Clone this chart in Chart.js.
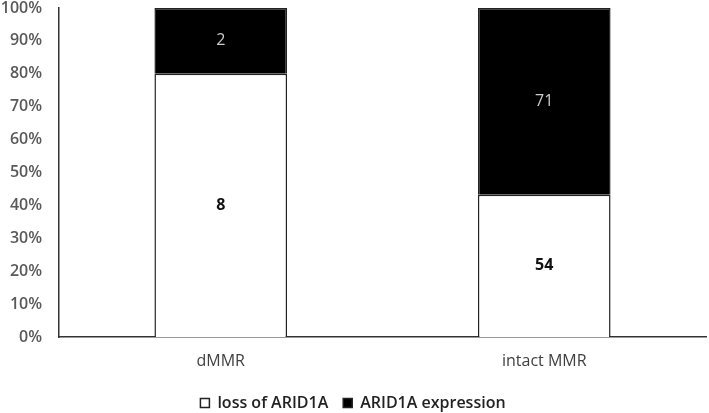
<!DOCTYPE html>
<html lang="en">
<head>
<meta charset="UTF-8">
<title>ARID1A by MMR status</title>
<script src="https://cdn.jsdelivr.net/npm/chart.js"></script>
<style>
  html, body { margin: 0; padding: 0; background: #fff; }
  #wrap { width: 709px; height: 413px; }
</style>
</head>
<body>
<div id="wrap"><canvas id="arid1a-chart"></canvas></div>

<script>
var categories = ['dMMR', 'intact MMR'];
var lossCounts = [8, 54];
var expressionCounts = [2, 71];
var yTicks = [0, 10, 20, 30, 40, 50, 60, 70, 80, 90, 100];

// percentages of each column (100% stacked)
function toPercent(part, other) {
    return part.map(function(v, i){ return v / (v + other[i]) * 100; });
}
var lossPct = toPercent(lossCounts, expressionCounts);
var exprPct = toPercent(expressionCounts, lossCounts);

var FONT = '"Open Sans", "Liberation Sans", sans-serif';

// counts written in the middle of each segment
var segmentLabels = {
    id: 'segmentLabels',
    afterDatasetsDraw: function(chart) {
        var ctx = chart.ctx;
        chart.data.datasets.forEach(function(ds, di){
            var meta = chart.getDatasetMeta(di);
            meta.data.forEach(function(bar, i){
                ctx.save();
                ctx.font = ds.labelWeight + ' 16px ' + FONT;
                ctx.fillStyle = ds.labelColor;
                ctx.textAlign = 'center';
                ctx.textBaseline = 'middle';
                ctx.fillText(ds.counts[i], bar.x, (bar.y + bar.base) / 2);
                ctx.restore();
            });
        });
    }
};

var ctx = document.getElementById('arid1a-chart').getContext('2d');
var chart = new Chart(ctx, {
    type: 'bar',
    data: {
        labels: categories,
        datasets: [{
            label: 'loss of ARID1A',
            data: lossPct,
            counts: lossCounts,
            backgroundColor: '#ffffff',
            borderColor: '#222222',
            borderWidth: 1.5,
            labelColor: '#111111',
            labelWeight: 'bold'
        }, {
            label: 'ARID1A expression',
            data: exprPct,
            counts: expressionCounts,
            backgroundColor: '#000000',
            borderColor: '#222222',
            borderWidth: 1.5,
            labelColor: '#cccccc',
            labelWeight: 'normal'
        }]
    },
    plugins: [segmentLabels],
    options: {
        responsive: true,
        maintainAspectRatio: false,
        animation: false,
        layout: { padding: { top: 8, right: 3, left: 0, bottom: -8 } },
        datasets: {
            bar: { categoryPercentage: 1, barPercentage: 0.41 }
        },
        plugins: {
            legend: {
                position: 'bottom',
                labels: {
                    boxWidth: 9,
                    boxHeight: 9,
                    padding: 15,
                    color: '#222222',
                    font: { family: FONT, size: 16, weight: '600' }
                }
            },
            tooltip: { enabled: false }
        },
        scales: {
            x: {
                stacked: true,
                afterFit: function(scale){
                    scale.height = 43;
                    scale.paddingLeft = 0;
                    scale.paddingRight = 0;
                },
                grid: { display: false, drawTicks: false },
                border: { display: true, color: '#333333', width: 1.5 },
                ticks: {
                    color: '#404040',
                    padding: 15,
                    font: { family: FONT, size: 16 }
                }
            },
            y: {
                stacked: true,
                min: 0,
                max: 100,
                afterBuildTicks: function(scale){
                    scale.ticks = yTicks.map(function(v){ return { value: v }; });
                },
                afterFit: function(scale){
                    scale.width = 59;
                    scale.paddingTop = 0;
                    scale.paddingBottom = 0;
                },
                grid: { display: false, drawTicks: false },
                border: { display: true, color: '#333333', width: 1.5 },
                ticks: {
                    color: '#595959',
                    padding: 17,
                    font: { family: FONT, size: 16, weight: '600' },
                    callback: function(v){ return v + '%'; }
                }
            }
        }
    }
});
</script>
</body>
</html>
